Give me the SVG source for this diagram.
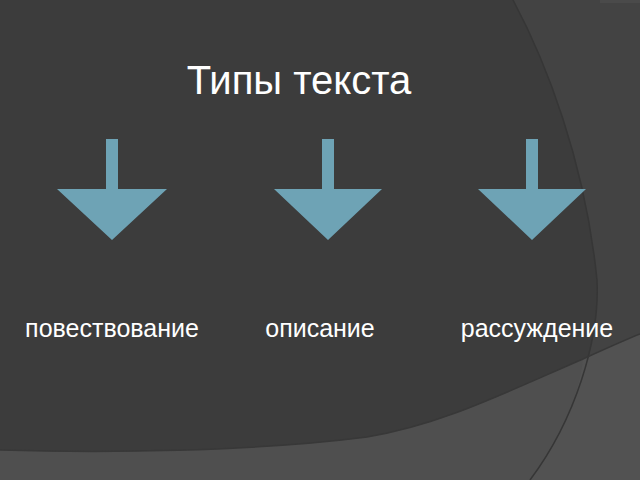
<svg xmlns="http://www.w3.org/2000/svg" width="640" height="480" viewBox="0 0 640 480">
<style>
.arrow{fill:#6ea3b5}
.t{font-family:"Liberation Sans",Arial,sans-serif;fill:#ffffff}
.lbl{font-size:25px}
</style>
<rect width="640" height="480" fill="#3c3c3c"/>
<!-- right region outside big arc -->
<path d="M513,0 C545,60 585,160 597,280 C600,340 575,420 530,480 L640,480 L640,0 Z" fill="#434343"/>
<path d="M600,0 L640,0 L640,3 L600,3 Z" fill="#4a4a4a"/>
<!-- bottom region -->
<path d="M0,450 C100,453 250,452 367,437 C440,425 500,395 583,359 C605,349 625,340 640,334 L640,480 L0,480 Z" fill="#4f4f4f"/>
<path d="M583,359 C605,349 625,340 640,334 L640,480 L530,480 C560,440 578,400 583,359 Z" fill="#525252"/>
<path d="M513,0 C545,60 585,160 597,280 C600,340 575,420 530,480" fill="none" stroke="#363636" stroke-width="1.5"/>
<path d="M0,450 C100,453 250,452 367,437 C440,425 500,395 583,359 C605,349 625,340 640,334" fill="none" stroke="#383838" stroke-width="1.5"/>
<g id="title"><text class="t" x="299" y="94" font-size="40" text-anchor="middle">Типы текста</text></g>
<g id="connectors">
<path class="arrow" d="M106,139 H118 V189 H167 L112,240 L57,189 H106 Z"/>
<path class="arrow" d="M322,139 H334 V189 H382 L328,240 L274,189 H322 Z"/>
<path class="arrow" d="M526,139 H538 V189 H586 L532,240 L478,189 H526 Z"/>
</g>
<g id="node1"><text class="t lbl" x="112" y="337" text-anchor="middle">повествование</text></g>
<g id="node2"><text class="t lbl" x="320" y="337" text-anchor="middle">описание</text></g>
<g id="node3"><text class="t lbl" x="537" y="337" text-anchor="middle">рассуждение</text></g>
</svg>
